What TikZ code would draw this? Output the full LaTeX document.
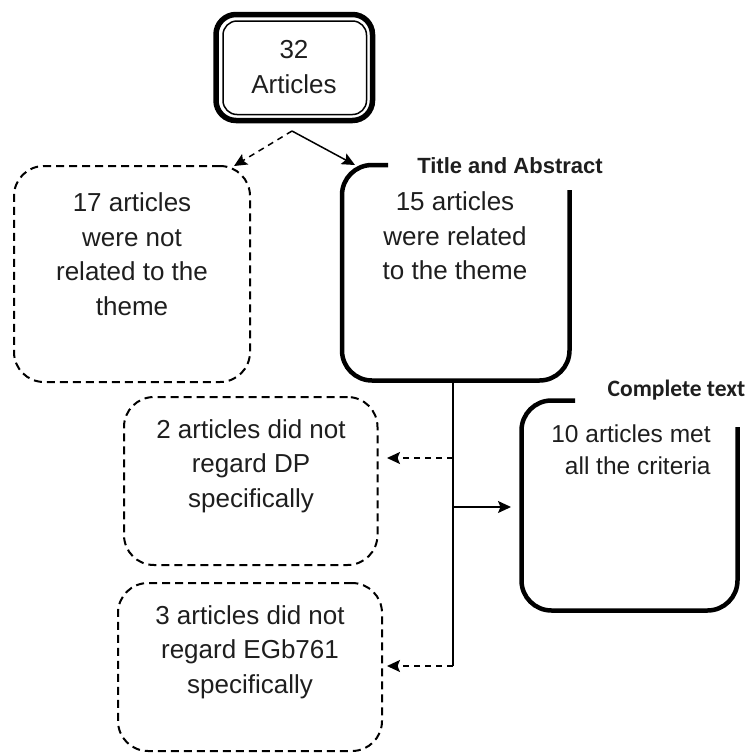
\documentclass[tikz,border=0pt]{standalone}
\usepackage{fontspec}
\setmainfont{Liberation Sans}
\newfontfamily\carlito{Carlito}
\usetikzlibrary{arrows.meta}
\definecolor{txt}{HTML}{1E1E1E}
\tikzset{
  body/.style={font=\fontsize{26}{34.5}\selectfont, text=txt, align=center, inner sep=0pt},
  dbox/.style={draw, line width=2pt, dash pattern=on 8pt off 5pt, rounded corners=30pt},
  thick box/.style={line width=4.5pt, rounded corners=30pt},
  tip/.style={-{Stealth[length=13pt,width=12pt,inset=2.5pt]}},
  conn/.style={line width=1.5pt},
  dconn/.style={line width=1.5pt, dash pattern=on 6pt off 5pt}
}
\begin{document}
\begin{tikzpicture}[x=1pt,y=-1pt]
\useasboundingbox (0,0) rectangle (752,753);
% top box
\draw[line width=5.5pt, rounded corners=20pt] (216,14.5) rectangle (372.5,120.5);
\draw[line width=1.5pt, rounded corners=14pt] (223,21) rectangle (366.5,114.5);
\node[body] (top) at (294,67) {32\\Articles};
\coordinate (split) at (292,131);
% 17 box
\node[dbox, minimum width=236pt, minimum height=216pt] (n17) at (132,274) {};
\node[body] at (132,254) {17 articles\\were not\\related to the\\theme};
% 15 box
\draw[thick box] (388,165) -- (342,165) -- (342,380.5) -- (569.5,380.5) -- (569.5,190);
\node[body] (n15) at (455,236) {15 articles\\were related\\to the theme};
\node[font=\bfseries\fontsize{22}{26}\selectfont, text=txt, anchor=base, inner sep=0pt] (ta) at (510,173) {Title and Abstract};
\coordinate (n15in) at (355,165);
\coordinate (n15out) at (453,382.5);
% 2 box
\node[dbox, minimum width=253.5pt, minimum height=168pt] (n2) at (250.75,481) {};
\node[body] at (251,466) {2 articles did not\\regard DP\\specifically};
% 3 box
\node[dbox, minimum width=264pt, minimum height=168pt] (n3) at (250,667) {};
\node[body] at (250,652) {3 articles did not\\regard EGb761\\specifically};
% complete text box
\draw[thick box] (575,400.5) -- (521.5,400.5) -- (521.5,610.5) -- (737.5,610.5) -- (737.5,427);
\node[font=\carlito\bfseries\fontsize{23.5}{26}\selectfont, text=txt, anchor=base, inner sep=0pt] (ct) at (676.5,396) {Complete text};
\node[font=\fontsize{24.5}{32}\selectfont, text=txt, align=right, inner sep=0pt] (n10) at (631,450) {10 articles met\\all the criteria};
% connectors
\coordinate (j1) at (453,458);
\coordinate (j2) at (453,507);
\coordinate (j3) at (453,666);
\draw[conn] (n15out) -- (j3);
\draw[dconn, tip] (split) -- (234,166);
\draw[conn, tip] (split) -- (n15in);
\draw[dconn, tip] (j1) -- (387,458);
\draw[conn, tip] (j2) -- (511,507);
\draw[dconn, tip] (j3) -- (387,666);
\end{tikzpicture}
\end{document}
